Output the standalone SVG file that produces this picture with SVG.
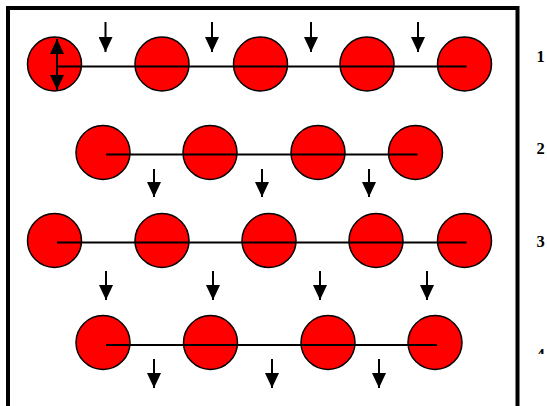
<svg xmlns="http://www.w3.org/2000/svg" width="547" height="406" viewBox="0 0 547 406">
<style>
.b{fill:#ff0000;stroke:#000;stroke-width:1.5}
.ln{stroke:#000;stroke-width:2;fill:none}
.ar{stroke:#000;stroke-width:2;fill:none;marker-end:url(#ah)}
.lb{font-family:"Liberation Serif",serif;font-weight:bold;font-size:16.5px;fill:#000;text-anchor:middle}
</style>
<defs>
<marker id="ah" markerUnits="userSpaceOnUse" markerWidth="15" markerHeight="14" viewBox="0 -7 15 14" refX="15" refY="0" orient="auto-start-reverse">
<path d="M0,-7 L15,0 L0,7 Z" fill="#000"/>
</marker>
<clipPath id="c4"><rect x="520" y="340" width="27" height="14"/></clipPath>
</defs>
<rect x="0" y="0" width="547" height="406" fill="#fff"/>
<rect x="8" y="8" width="509.5" height="420" fill="none" stroke="#000" stroke-width="4"/>
<g id="row1">
<g id="n1a"><circle class="b" cx="54.5" cy="64" r="27"/></g>
<g id="n1b"><circle class="b" cx="162" cy="64" r="27"/></g>
<g id="n1c"><circle class="b" cx="260.5" cy="64" r="27"/></g>
<g id="n1d"><circle class="b" cx="367" cy="64" r="27"/></g>
<g id="n1e"><circle class="b" cx="464.5" cy="64" r="27"/></g>
</g>
<g id="row2">
<g id="n2a"><circle class="b" cx="103" cy="152.5" r="27"/></g>
<g id="n2b"><circle class="b" cx="210" cy="152.5" r="27"/></g>
<g id="n2c"><circle class="b" cx="318" cy="152.5" r="27"/></g>
<g id="n2d"><circle class="b" cx="415.5" cy="152.5" r="27"/></g>
</g>
<g id="row3">
<g id="n3a"><circle class="b" cx="54.5" cy="240.5" r="27"/></g>
<g id="n3b"><circle class="b" cx="162" cy="240.5" r="27"/></g>
<g id="n3c"><circle class="b" cx="269" cy="240.5" r="27"/></g>
<g id="n3d"><circle class="b" cx="376" cy="240.5" r="27"/></g>
<g id="n3e"><circle class="b" cx="464.5" cy="240.5" r="27"/></g>
</g>
<g id="row4">
<g id="n4a"><circle class="b" cx="103" cy="342.5" r="27"/></g>
<g id="n4b"><circle class="b" cx="210.5" cy="342.5" r="27"/></g>
<g id="n4c"><circle class="b" cx="328" cy="342.5" r="27"/></g>
<g id="n4d"><circle class="b" cx="435" cy="342.5" r="27"/></g>
</g>
<g id="connectors">
<line class="ln" x1="57" y1="66.5" x2="466.5" y2="66.5"/>
<line class="ln" x1="106" y1="154.5" x2="417.5" y2="154.5"/>
<line class="ln" x1="57" y1="242.5" x2="466.5" y2="242.5"/>
<line class="ln" x1="106" y1="345" x2="437" y2="345"/>
<line x1="57" y1="39" x2="57" y2="90" stroke="#000" stroke-width="2" marker-start="url(#ah)" marker-end="url(#ah)"/>
<line class="ar" x1="105.5" y1="22" x2="105.5" y2="52"/>
<line class="ar" x1="212" y1="22" x2="212" y2="52"/>
<line class="ar" x1="311" y1="22" x2="311" y2="52"/>
<line class="ar" x1="418" y1="22" x2="418" y2="52"/>
<line class="ar" x1="154" y1="169" x2="154" y2="197"/>
<line class="ar" x1="262" y1="169" x2="262" y2="197"/>
<line class="ar" x1="369" y1="169" x2="369" y2="197"/>
<line class="ar" x1="106" y1="271" x2="106" y2="300"/>
<line class="ar" x1="213" y1="271" x2="213" y2="300"/>
<line class="ar" x1="320" y1="271" x2="320" y2="300"/>
<line class="ar" x1="427" y1="271" x2="427" y2="300"/>
<line class="ar" x1="154" y1="359" x2="154" y2="388"/>
<line class="ar" x1="272" y1="359" x2="272" y2="388"/>
<line class="ar" x1="379" y1="359" x2="379" y2="388"/>
</g>
<g id="labels">
<text class="lb" x="540.5" y="62">1</text>
<text class="lb" x="540.5" y="154">2</text>
<text class="lb" x="540.5" y="247">3</text>
<text class="lb" x="540.5" y="360" clip-path="url(#c4)">4</text>
</g>
</svg>
